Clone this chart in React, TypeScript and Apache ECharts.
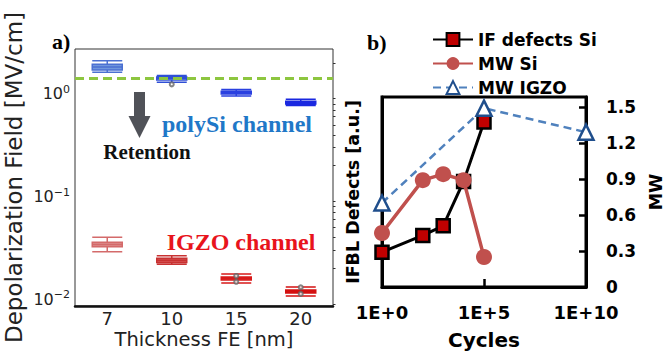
import React, { useEffect, useRef } from 'react';
import * as echarts from 'echarts';

// ---------- Panel a) data ----------
const thicknessCats = ['7', '10', '15', '20'];
// [min, Q1, median, Q3, max]
const polySiBoxes = [
  [1.63, 1.71, 1.83, 1.95, 2.1],
  [1.3, 1.37, 1.42, 1.46, 1.51],
  [0.956, 1.0, 1.03, 1.065, 1.105],
  [0.77, 0.8, 0.82, 0.85, 0.89],
];
const igzoBoxes = [
  [0.0291, 0.0325, 0.0342, 0.0359, 0.0402],
  [0.0219, 0.0229, 0.024, 0.0251, 0.0266],
  [0.0144, 0.0154, 0.016, 0.0165, 0.0176],
  [0.0108, 0.0115, 0.0119, 0.0123, 0.0132],
];
const outlierCats = [1, 2, 2, 3, 3];
const outlierValues = [1.24, 0.0169, 0.0148, 0.0131, 0.0113];
const retentionLimit = 1.43;
const minorTicksA = [
  0.009, 0.02, 0.03, 0.04, 0.05, 0.06, 0.07, 0.08, 0.09,
  0.2, 0.3, 0.4, 0.5, 0.6, 0.7, 0.8, 0.9, 2,
];

// ---------- Panel b) data ----------
const cycles = [1, 100, 1000, 10000, 100000];
const ifDefectsSi = [0.29, 0.43, 0.51, 0.88, 1.375];
const mwSi = [0.45, 0.89, 0.94, 0.89, 0.25];
const igzoCycles = [1, 100000, 1e10];
const mwIgzo = [0.7, 1.49, 1.29];
const seriesNames = ['IF defects Si', 'MW Si', 'MW IGZO'];

// ---------- styles ----------
const polyFill = ['#7097dc', '#a3b6e8', '#4563e0', '#2a3ee2'];
const polyBorder = ['#4b70d2', '#2f4fd6', '#2a40e0', '#1a28e0'];
const igzoFill = ['#dc8c8c', '#d85050', '#e03434', '#e01c1c'];
const igzoBorder = ['#d46a6a', '#c83232', '#d81a1a', '#d41010'];

const serif = '"Liberation Serif", "Times New Roman", serif';
const sans = '"DejaVu Sans", sans-serif';

function supLabel(v: number) {
  const e = Math.log10(v);
  const r = Math.round(e);
  if (Math.abs(e - r) > 1e-6) return '';
  const ex = r < 0 ? '\u2212' + -r : String(r);
  return '{b|10}{s|' + ex + '}';
}

const option: any = {
  animation: false,
  textStyle: { fontFamily: sans },
  legend: {
    data: seriesNames,
    orient: 'vertical',
    left: 432,
    top: 31,
    padding: 0,
    itemWidth: 40,
    itemHeight: 16,
    itemGap: 7,
    selectedMode: false,
    textStyle: { fontFamily: sans, fontWeight: 'bold', fontSize: 17, color: '#000' },
  },
  grid: [
    {
      left: 75, top: 49, width: 258, height: 257,
      show: true, borderColor: '#333', borderWidth: 1,
      containLabel: false, outerBoundsMode: 'none',
    },
    {
      left: 382, top: 97, width: 204, height: 190,
      show: true, borderColor: '#000', borderWidth: 3,
      containLabel: false, outerBoundsMode: 'none',
    },
  ],
  xAxis: [
    {
      type: 'category',
      gridIndex: 0,
      data: thicknessCats,
      boundaryGap: true,
      axisLine: { lineStyle: { color: '#111', width: 2.5 } },
      axisTick: { inside: true, alignWithLabel: true, length: 5, lineStyle: { color: '#222', width: 1 } },
      axisLabel: { color: '#222', fontSize: 18, lineHeight: 18, margin: 3, fontFamily: sans },
      name: 'Thickness FE [nm]',
      nameLocation: 'middle',
      nameGap: 24,
      nameMoveOverlap: false,
      nameTextStyle: { fontSize: 19.5, lineHeight: 19, color: '#222', fontFamily: sans },
      splitLine: { show: false },
    },
    { type: 'category', gridIndex: 0, data: thicknessCats, show: false },
    {
      type: 'log',
      gridIndex: 1,
      logBase: 100000,
      min: 1,
      max: 1e10,
      axisLine: { lineStyle: { color: '#000', width: 3 } },
      axisTick: { inside: true, length: 8, lineStyle: { color: '#000', width: 2.5 } },
      axisLabel: {
        color: '#000',
        fontSize: 18,
        fontWeight: 'bold',
        margin: 16,
        fontFamily: sans,
        formatter: (v: number) => '1E+' + Math.round(Math.log10(v)),
      },
      splitLine: { show: false },
      minorTick: { show: false },
      name: 'Cycles',
      nameLocation: 'middle',
      nameGap: 43,
      nameMoveOverlap: false,
      nameTextStyle: { fontSize: 20, lineHeight: 20, fontWeight: 'bold', color: '#000', fontFamily: sans },
    },
  ],
  yAxis: [
    {
      type: 'log',
      gridIndex: 0,
      logBase: 10,
      min: 0.00861,
      max: 2.74,
      axisLine: { lineStyle: { color: '#111', width: 2 } },
      axisTick: { length: 4, lineStyle: { color: '#222', width: 1 } },
      splitLine: { show: false },
      axisLabel: {
        margin: 5,
        color: '#222',
        formatter: supLabel,
        rich: {
          b: { fontSize: 16, color: '#222', fontFamily: sans, lineHeight: 20 },
          s: { fontSize: 11, color: '#222', fontFamily: sans, verticalAlign: 'top', lineHeight: 12 },
        },
      },
      name: 'Depolarization Field [MV/cm]',
      nameLocation: 'middle',
      nameGap: 50,
      nameMoveOverlap: false,
      nameTextStyle: { fontSize: 23, color: '#222', fontFamily: sans },
    },
    {
      type: 'log',
      gridIndex: 0,
      logBase: 10,
      min: 0.00861,
      max: 2.74,
      axisLine: { show: false },
      axisLabel: { show: false },
      splitLine: { show: false },
      axisTick: { show: true, length: 2.5, customValues: minorTicksA, lineStyle: { color: '#333', width: 1 } },
    },
    {
      type: 'value',
      gridIndex: 1,
      position: 'left',
      min: 0,
      max: 1.583,
      axisLine: { show: true, lineStyle: { color: '#000', width: 3 } },
      axisTick: { show: false },
      axisLabel: { show: false },
      splitLine: { show: false },
      name: 'IFBL Defects [a.u.]',
      nameLocation: 'middle',
      nameGap: 20,
      nameMoveOverlap: false,
      nameTextStyle: { fontSize: 17.5, fontWeight: 'bold', color: '#000', fontFamily: sans },
    },
    {
      type: 'value',
      gridIndex: 1,
      position: 'right',
      min: 0,
      max: 1.583,
      interval: 0.3,
      axisLine: { show: true, lineStyle: { color: '#000', width: 3 } },
      axisTick: { show: true, inside: true, length: 7, lineStyle: { color: '#000', width: 2.5 } },
      axisLabel: {
        showMaxLabel: false,
        margin: 20,
        color: '#000',
        fontSize: 17,
        fontWeight: 'bold',
        fontFamily: sans,
        formatter: (v: number) => (v === 0 ? '0' : v.toFixed(1)),
      },
      splitLine: { show: false },
      name: 'MW',
      nameLocation: 'middle',
      nameGap: 61,
      nameMoveOverlap: false,
      nameTextStyle: { fontSize: 17.5, fontWeight: 'bold', color: '#000', fontFamily: sans },
    },
  ],
  series: [
    {
      type: 'boxplot',
      xAxisIndex: 0,
      yAxisIndex: 0,
      boxWidth: [30, 30],
      data: polySiBoxes.map((v, i) => ({
        value: v,
        itemStyle: { color: polyFill[i], borderColor: polyBorder[i], borderWidth: 1.5 },
      })),
      markLine: {
        silent: true,
        symbol: 'none',
        label: { show: false },
        lineStyle: { color: '#8dc63f', width: 3, type: [9, 5] },
        data: [{ yAxis: retentionLimit }],
      },
    },
    {
      type: 'boxplot',
      xAxisIndex: 1,
      yAxisIndex: 0,
      boxWidth: [30, 30],
      data: igzoBoxes.map((v, i) => ({
        value: v,
        itemStyle: { color: igzoFill[i], borderColor: igzoBorder[i], borderWidth: 1.5 },
      })),
    },
    {
      type: 'scatter',
      xAxisIndex: 0,
      yAxisIndex: 0,
      symbol: 'emptyCircle',
      symbolSize: 4,
      itemStyle: { color: '#666', borderColor: '#555', borderWidth: 1 },
      data: outlierCats.map((c, i) => [c, outlierValues[i]]),
    },
    {
      name: seriesNames[0],
      type: 'line',
      xAxisIndex: 2,
      yAxisIndex: 2,
      showSymbol: true,
      symbol: 'rect',
      symbolSize: 13,
      lineStyle: { color: '#000', width: 3 },
      itemStyle: { color: '#c00000', borderColor: '#000', borderWidth: 2.5 },
      data: cycles.map((c, i) => [c, ifDefectsSi[i]]),
      z: 3,
    },
    {
      name: seriesNames[1],
      type: 'line',
      xAxisIndex: 2,
      yAxisIndex: 3,
      showSymbol: true,
      symbol: 'circle',
      symbolSize: 16,
      lineStyle: { color: '#c0504d', width: 3.5 },
      itemStyle: { color: '#c0504d' },
      data: cycles.map((c, i) => [c, mwSi[i]]),
      z: 4,
    },
    {
      name: seriesNames[2],
      type: 'line',
      xAxisIndex: 2,
      yAxisIndex: 3,
      showSymbol: true,
      symbol: 'triangle',
      symbolSize: 15,
      lineStyle: { color: '#4f81bd', width: 2.5, type: [8, 5] },
      itemStyle: { color: '#fff', borderColor: '#1f4e8c', borderWidth: 2.5 },
      data: igzoCycles.map((c, i) => [c, mwIgzo[i]]),
      z: 5,
    },
  ],
  graphic: [
    { type: 'text', x: 52, y: 41, style: { text: 'a)', font: 'bold 22px ' + serif, fill: '#000', align: 'left', verticalAlign: 'middle' } },
    { type: 'text', x: 367, y: 42, style: { text: 'b)', font: 'bold 22px ' + serif, fill: '#000', align: 'left', verticalAlign: 'middle' } },
    {
      type: 'polygon',
      shape: { points: [[134, 92], [145, 92], [145, 116], [150.5, 116], [139.5, 138], [128.5, 116], [134, 116]] },
      style: { fill: '#505258' },
    },
    { type: 'text', x: 147, y: 152, style: { text: 'Retention', font: 'bold 21px ' + serif, fill: '#111', align: 'center', verticalAlign: 'middle' } },
    { type: 'text', x: 237, y: 124, style: { text: 'polySi channel', font: 'bold 24px ' + serif, fill: '#1f78c8', align: 'center', verticalAlign: 'middle' } },
    { type: 'text', x: 241, y: 242, style: { text: 'IGZO channel', font: 'bold 24px ' + serif, fill: '#e8141c', align: 'center', verticalAlign: 'middle' } },
  ],
};

export default function App() {
  const ref = useRef<HTMLDivElement>(null);
  useEffect(() => {
    const chart = echarts.init(ref.current as HTMLDivElement, null, { renderer: 'svg' });
    chart.setOption(option);
    return () => chart.dispose();
  }, []);
  return (
    <div
      ref={ref}
      style={{ position: 'absolute', left: 0, top: 0, width: 665, height: 351, background: '#fff' }}
    />
  );
}
